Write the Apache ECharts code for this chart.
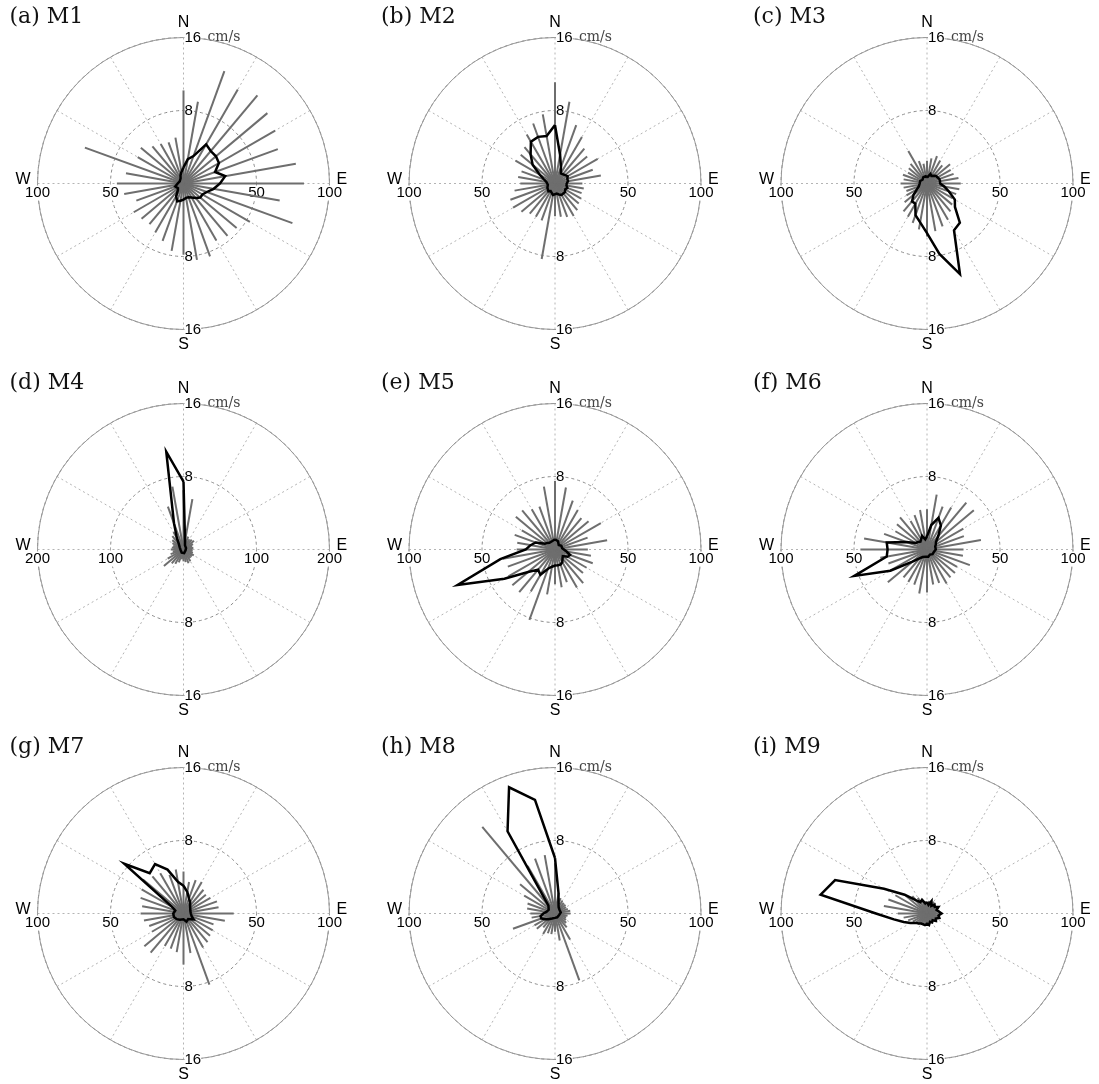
<!DOCTYPE html>
<html>
<head>
<meta charset="utf-8">
<title>Current roses M1–M9</title>
<script src="https://cdn.jsdelivr.net/npm/echarts@6/dist/echarts.min.js"></script>
<style>
  html, body { margin: 0; padding: 0; background: #fff; }
  #chart { width: 1099px; height: 1084px; }
</style>
</head>
<body>
<div id="chart"></div>
<script>
// Direction bins (degrees clockwise from north)
const directions = [0, 10, 20, 30, 40, 50, 60, 70, 80, 90, 100, 110,
  120, 130, 140, 150, 160, 170, 180, 190, 200, 210, 220, 230,
  240, 250, 260, 270, 280, 290, 300, 310, 320, 330, 340, 350];

const stations = ['M1', 'M2', 'M3', 'M4', 'M5', 'M6', 'M7', 'M8', 'M9'];
const panelLetters = ['a', 'b', 'c', 'd', 'e', 'f', 'g', 'h', 'i'];

// Mean speed per direction bin (cm/s)
const speedM1 = [10.2, 9.1, 13.1, 11.9, 12.6, 12.0, 11.6, 11.0, 12.5, 13.2, 10.7, 12.7, 8.4, 7.6, 7.5, 7.2, 8.5, 8.5, 7.8, 7.5, 6.7, 6.2, 5.8, 6.0, 6.3, 5.5, 6.6, 7.3, 6.4, 11.5, 5.8, 6.1, 5.3, 5.0, 4.8, 5.1];
const speedM2 = [11.1, 9.1, 6.8, 5.9, 5.0, 4.6, 5.4, 4.4, 5.1, 3.0, 3.2, 3.1, 3.3, 3.4, 3.8, 4.1, 3.9, 3.7, 3.6, 8.4, 4.3, 4.2, 4.3, 4.8, 5.3, 5.2, 4.5, 3.8, 4.1, 3.9, 5.0, 4.9, 5.2, 6.2, 7.0, 7.7];
const speedM3 = [2.5, 2.8, 3.2, 2.9, 2.6, 3.3, 3.0, 3.1, 3.5, 3.7, 3.6, 3.4, 3.2, 3.6, 4.0, 4.6, 5.0, 5.3, 5.8, 5.1, 4.6, 4.2, 4.0, 3.2, 2.6, 2.4, 2.6, 2.9, 2.6, 2.8, 2.4, 2.6, 2.8, 4.1, 2.6, 2.2];
const speedM4 = [6.5, 5.6, 1.5, 1.3, 1.4, 1.5, 1.2, 1.0, 1.1, 1.0, 1.0, 1.1, 1.3, 1.2, 1.2, 1.5, 1.6, 1.4, 1.3, 1.1, 1.5, 1.8, 2.0, 2.8, 2.0, 1.5, 1.2, 1.4, 1.3, 1.2, 1.4, 1.6, 1.9, 2.2, 5.0, 7.0];
const speedM5 = [7.5, 6.9, 5.7, 5.0, 4.5, 4.8, 5.8, 3.8, 5.8, 3.6, 4.0, 4.4, 4.0, 4.0, 4.8, 4.8, 3.8, 4.2, 3.8, 5.0, 8.2, 5.3, 6.1, 6.1, 5.9, 5.5, 5.8, 4.2, 4.2, 4.7, 4.2, 5.6, 5.6, 5.1, 5.0, 7.0];
const speedM6 = [4.4, 6.1, 5.0, 5.3, 6.7, 6.7, 4.6, 4.3, 6.0, 4.0, 4.0, 5.0, 3.8, 4.0, 4.0, 4.3, 3.9, 3.9, 4.7, 4.9, 4.1, 4.1, 4.0, 5.6, 4.7, 4.5, 5.2, 7.3, 7.0, 5.0, 4.0, 4.3, 4.6, 3.6, 4.0, 4.4];
const speedM7 = [4.6, 3.5, 3.9, 4.0, 3.4, 3.2, 3.4, 3.9, 3.9, 5.5, 4.6, 3.5, 3.7, 3.8, 4.1, 4.3, 8.3, 4.4, 5.6, 4.3, 4.1, 4.1, 5.6, 5.6, 4.0, 4.0, 4.4, 4.7, 4.6, 5.0, 5.3, 5.8, 5.3, 5.1, 4.5, 4.9];
const speedM8 = [5.5, 2.3, 1.8, 1.6, 1.5, 1.5, 1.4, 1.5, 1.7, 1.7, 1.4, 1.3, 1.4, 1.6, 2.0, 3.3, 7.8, 3.0, 2.0, 2.3, 2.3, 2.6, 2.0, 2.6, 2.6, 4.9, 2.6, 2.7, 3.1, 3.2, 3.9, 5.0, 12.4, 6.0, 6.4, 6.5];
const speedM9 = [1.2, 1.4, 1.3, 1.5, 1.2, 1.3, 1.1, 1.2, 1.4, 1.5, 1.2, 1.3, 1.1, 1.0, 1.1, 1.0, 1.1, 1.2, 1.3, 1.1, 1.2, 1.3, 1.5, 1.6, 1.8, 2.2, 2.6, 3.2, 4.8, 4.5, 4.0, 3.2, 2.5, 2.0, 1.6, 1.3];

// Number of records per direction bin
const countM1 = [11, 17, 20, 31, 29, 29, 28, 23, 29, 25, 21, 17, 15, 15, 13, 11, 10, 10, 11, 12, 13, 10, 6, 5, 5, 6, 5, 4, 3, 3, 3, 3, 3, 4, 6, 8];
const countM2 = [40, 20, 12, 8, 8, 9, 10, 9, 9, 8, 8, 9, 8, 9, 9, 9, 8, 7, 6, 8, 7, 6, 7, 7, 6, 6, 5, 5, 6, 8, 12, 20, 26, 33, 34, 33];
const countM3 = [4, 5, 7, 6, 7, 8, 8, 9, 9, 9, 12, 16, 22, 25, 35, 37, 66, 49, 34, 27, 23, 16, 16, 12, 8, 6, 5, 5, 5, 5, 4, 4, 5, 5, 5, 5];
const countM4 = [93, 12, 6, 5, 4, 4, 4, 4, 4, 3, 3, 3, 3, 3, 4, 4, 4, 5, 4, 5, 5, 5, 4, 4, 4, 4, 4, 4, 4, 5, 6, 7, 10, 18, 38, 136];
const countM5 = [7, 7, 6, 5, 4, 5, 5, 5, 5, 6, 8, 11, 10, 7, 8, 10, 11, 11, 11, 12, 14, 20, 18, 24, 40, 71, 38, 20, 17, 14, 8, 7, 6, 6, 6, 7];
const countM6 = [9, 17, 23, 19, 12, 8, 7, 6, 6, 6, 5, 5, 5, 5, 4, 4, 4, 5, 5, 5, 5, 6, 8, 13, 29, 53, 28, 27, 28, 15, 9, 8, 7, 8, 10, 7];
const countM7 = [19, 15, 11, 9, 7, 6, 5, 5, 5, 5, 5, 6, 8, 6, 5, 5, 6, 5, 4, 5, 4, 5, 5, 6, 6, 7, 6, 7, 6, 6, 9, 53, 36, 39, 32, 22];
const countM8 = [38, 14, 7, 5, 4, 4, 4, 4, 4, 3, 3, 3, 3, 3, 3, 3, 3, 3, 3, 3, 4, 4, 5, 6, 8, 10, 10, 8, 6, 5, 5, 5, 7, 65, 92, 79];
const countM9 = [8, 6, 9, 6, 8, 7, 9, 7, 8, 10, 8, 9, 7, 8, 6, 7, 6, 8, 7, 8, 7, 8, 9, 10, 13, 17, 23, 35, 74, 67, 34, 20, 12, 9, 10, 7];

// Axis ranges and tick labels
const speedMax = 16;          // outer ring, cm/s
const speedTicks = [8, 16];
const countMax = [100, 100, 100, 200, 100, 100, 100, 100, 100];
const compassLabels = { 0: 'N', 90: 'E', 180: 'S', 270: 'W' };
const speedUnit = 'cm/s';

const speeds = [speedM1, speedM2, speedM3, speedM4, speedM5, speedM6, speedM7, speedM8, speedM9];
const counts = [countM1, countM2, countM3, countM4, countM5, countM6, countM7, countM8, countM9];

// Panel layout
const colX = [183.5, 555, 927];
const rowY = [183.5, 549.5, 913.5];
const R = 146;

const tickFont = { color: '#000', fontSize: 15, fontFamily: 'Liberation Sans, Arial, sans-serif' };

const polar = [], angleAxis = [], radiusAxis = [], series = [], title = [];

function hiddenAngle(idx, start) {
  return { polarIndex: idx, type: 'value', min: 0, max: 360, startAngle: start, clockwise: true, show: false };
}

// speed tick labels sit just right of the N–S line, centred on their ring
const speedLabel = (margin) => Object.assign({
  margin, align: 'left', verticalAlign: 'middle', showMinLabel: false, backgroundColor: '#fff',
  formatter: v => speedTicks.includes(v) ? String(v) : ''
}, tickFont);

// count tick labels sit just below the W–E line, centred on their ring
const countLabel = (margin) => Object.assign({
  margin, align: 'center', verticalAlign: 'top', showMinLabel: false, backgroundColor: '#fff'
}, tickFont);

stations.forEach((name, i) => {
  const cx = colX[i % 3], cy = rowY[Math.floor(i / 3)];
  const cmax = countMax[i];
  const base = polar.length;

  title.push({
    text: '(' + panelLetters[i] + ') ' + name,
    left: cx - 174, top: cy - 177, padding: 0,
    textStyle: { fontFamily: 'DejaVu Serif, serif', fontWeight: 'normal', fontSize: 22, color: '#111' }
  });

  // grid polar + speed labels to the north
  polar.push({ center: [cx, cy], radius: R });
  angleAxis.push({
    polarIndex: base, type: 'value', min: 0, max: 360, interval: 30,
    startAngle: 90, clockwise: true,
    axisLine: { lineStyle: { color: '#9a9a9a', width: 1 } },
    axisTick: { show: false },
    splitLine: { lineStyle: { color: '#b4b4b4', width: 1, type: [2, 3] } },
    axisLabel: {
      margin: 7, color: '#000', fontSize: 16, fontFamily: 'Liberation Sans, Arial, sans-serif',
      formatter: v => {
        const t = compassLabels[v];
        if (!t) return '';
        return (v === 90 || v === 270) ? '{h|' + t + '}' : t;
      },
      rich: { h: { padding: [0, 0, 8, 0], fontSize: 16, color: '#000', fontFamily: 'Liberation Sans, Arial, sans-serif' } }
    }
  });
  radiusAxis.push({
    polarIndex: base, type: 'value', min: 0, max: speedMax, interval: speedTicks[0],
    axisLine: { show: false }, axisTick: { show: false },
    splitLine: { lineStyle: { color: '#8c8c8c', width: 1, type: [3, 3] } },
    axisLabel: speedLabel(-1),
    name: speedUnit, nameLocation: 'end', nameGap: 0,
    nameTextStyle: { fontFamily: 'DejaVu Serif, serif', fontSize: 14, color: '#444',
      align: 'left', verticalAlign: 'middle', padding: [0, 0, 8, 24] }
  });

  // speed labels to the south
  polar.push({ center: [cx, cy], radius: R });
  angleAxis.push(hiddenAngle(base + 1, 270));
  radiusAxis.push({
    polarIndex: base + 1, type: 'value', min: 0, max: speedMax, interval: speedTicks[0],
    axisLine: { show: false }, axisTick: { show: false }, splitLine: { show: false },
    axisLabel: speedLabel(1)
  });

  // count labels to the east (flipped side) and west
  [0, 180].forEach((start, k) => {
    polar.push({ center: [cx, cy], radius: R });
    angleAxis.push(hiddenAngle(base + 2 + k, start));
    radiusAxis.push({
      polarIndex: base + 2 + k, type: 'value', min: 0, max: cmax, interval: cmax / 2,
      axisLine: { show: false }, axisTick: { show: false }, splitLine: { show: false },
      axisLabel: countLabel(start === 0 ? -2 : 2)
    });
  });

  // count polar for the frequency outline
  polar.push({ center: [cx, cy], radius: R });
  angleAxis.push(hiddenAngle(base + 4, 90));
  radiusAxis.push({ polarIndex: base + 4, type: 'value', min: 0, max: cmax, show: false,
    axisLine: { show: false }, axisTick: { show: false }, axisLabel: { show: false }, splitLine: { show: false } });

  // speed spokes
  series.push({
    type: 'custom', coordinateSystem: 'polar', polarIndex: base,
    encode: { radius: 0, angle: 1 },
    data: speeds[i].map((s, k) => [s, directions[k]]),
    z: 3, silent: true,
    renderItem: (params, api) => {
      const s = api.value(0), a = api.value(1);
      const p0 = api.coord([0, a]);
      const p1 = api.coord([s, a]);
      return {
        type: 'line',
        shape: { x1: p0[0], y1: p0[1], x2: p1[0], y2: p1[1] },
        style: { stroke: '#6e6e6e', lineWidth: 2 }
      };
    }
  });

  // frequency outline (closed)
  const ring = counts[i].map((c, k) => [c, directions[k]]);
  ring.push([counts[i][0], directions[0]]);
  series.push({
    type: 'line', coordinateSystem: 'polar', polarIndex: base + 4,
    data: ring, symbol: 'none', smooth: false, z: 5, silent: true,
    lineStyle: { color: '#000', width: 2.5, join: 'miter' }
  });
});

const chart = echarts.init(document.getElementById('chart'), null, { renderer: 'canvas' });
chart.setOption({
  backgroundColor: '#fff',
  animation: false,
  title, polar, angleAxis, radiusAxis, series
});
</script>
</body>
</html>
